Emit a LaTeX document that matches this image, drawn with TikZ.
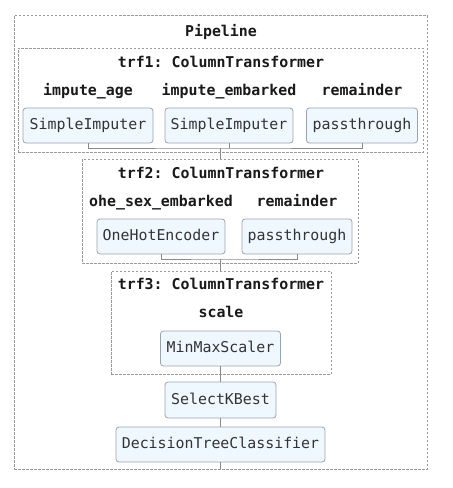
\documentclass[tikz,border=0pt]{standalone}
\usepackage{fontspec}
\setmonofont{DejaVu Sans Mono}
\definecolor{boxfill}{HTML}{F0F8FF}
\definecolor{boxdraw}{HTML}{9AA3B0}
\definecolor{dashc}{HTML}{9A9A9A}
\definecolor{linec}{HTML}{8A8A8A}
\definecolor{txt}{HTML}{333333}
\begin{document}
\begin{tikzpicture}[x=1pt,y=-1pt,
  est/.style={draw=boxdraw, fill=boxfill, rounded corners=3pt, line width=0.8pt,
    inner sep=0pt, minimum height=35pt, text=txt, text height=11pt, text depth=3pt,
    font=\ttfamily\fontsize{14.9}{17}\selectfont},
  lab/.style={inner sep=0pt, text=black!90, text height=11pt, text depth=3pt,
    font=\ttfamily\bfseries\fontsize{14.9}{17}\selectfont},
  grp/.style={draw=dashc, line width=0.7pt, dash pattern=on 2.5pt off 1.5pt,
    inner sep=0pt},
  conn/.style={draw=linec, line width=0.8pt}]
\useasboundingbox (0,0) rectangle (453,488);
% dashed groups
\node[grp, minimum width=413pt, minimum height=453.5pt] (outer) at (220.5,242.25) {};
\node[grp, minimum width=405pt, minimum height=104pt] (trf1) at (220.5,100) {};
\node[grp, minimum width=276pt, minimum height=104pt] (trf2) at (220,211) {};
\node[grp, minimum width=220pt, minimum height=103pt] (trf3) at (221,322.5) {};
% labels
\node[lab] (lpipe) at (221,32) {Pipeline};
\node[lab] (ltrf1) at (221,63) {trf1: ColumnTransformer};
\node[lab] (lage) at (88,91) {impute\_age};
\node[lab] (lemb) at (229,91) {impute\_embarked};
\node[lab] (lrem1) at (362,91) {remainder};
\node[lab] (ltrf2) at (221,174) {trf2: ColumnTransformer};
\node[lab] (lohe) at (161,202) {ohe\_sex\_embarked};
\node[lab] (lrem2) at (297,202) {remainder};
\node[lab] (ltrf3) at (221,285) {trf3: ColumnTransformer};
\node[lab] (lscale) at (221,313) {scale};
% estimators
\node[est, minimum width=130pt] (si1) at (88,125.5) {SimpleImputer};
\node[est, minimum width=128pt] (si2) at (229,125.5) {SimpleImputer};
\node[est, minimum width=111pt] (pt1) at (362,125.5) {passthrough};
\node[est, minimum width=128pt] (ohe) at (161,236.5) {OneHotEncoder};
\node[est, minimum width=110pt] (pt2) at (297,236.5) {passthrough};
\node[est, minimum width=120pt] (mms) at (220.5,348.5) {MinMaxScaler};
\node[est, minimum width=111pt, minimum height=36pt] (skb) at (220.5,400) {SelectKBest};
\node[est, minimum width=209pt] (dtc) at (220.5,444.5) {DecisionTreeClassifier};
% connectors
\coordinate (b1) at (220.5,148);
\coordinate (b2) at (220.5,259);
\draw[conn] (si1.south) |- (b1) -| (pt1.south);
\draw[conn] (si2.south) -- (si2.south |- b1);
\draw[conn] (b1) -- (b1 |- trf2.north);
\draw[conn] (ohe.south) |- (b2) -| (pt2.south);
\draw[conn] (b2) -- (b2 |- trf3.north);
\draw[conn] (mms.south) -- (skb.north);
\draw[conn] (skb.south) -- (dtc.north);
\draw[conn] (dtc.south) -- (dtc.south |- outer.south);
\end{tikzpicture}
\end{document}
